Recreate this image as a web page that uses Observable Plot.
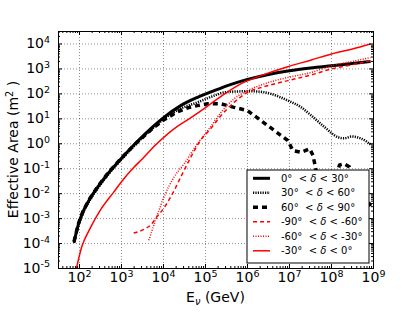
<!DOCTYPE html>
<html><head><meta charset="utf-8">
<script src="https://cdn.jsdelivr.net/npm/d3@7"></script>
<script src="https://cdn.jsdelivr.net/npm/@observablehq/plot@0.6"></script>
<style>body{margin:0;background:#fff;}</style>
</head><body><div id="chart"></div>
<script>
// ---- data (log10 values) ----
const xTickExponents = [2, 3, 4, 5, 6, 7, 8, 9];
const yTickExponents = [-5, -4, -3, -2, -1, 0, 1, 2, 3, 4];

const dec0_30_logE = [1.87, 1.97, 2.09, 2.25, 2.45, 2.70, 3.00, 3.37, 3.77, 4.01, 4.41, 4.81, 5.21, 5.61, 6.0, 6.5, 7.0, 7.5, 8.0, 8.5, 8.93];
const dec0_30_logA = [-3.94, -3.25, -2.70, -2.20, -1.70, -1.15, -0.58, 0.08, 0.72, 1.06, 1.53, 1.86, 2.13, 2.38, 2.58, 2.78, 2.93, 3.04, 3.13, 3.22, 3.30];

const dec30_60_logE = [1.87, 1.97, 2.09, 2.25, 2.45, 2.70, 3.00, 3.37, 3.77, 4.0, 4.4, 4.81, 5.21, 5.45, 5.84, 6.16, 6.56, 6.96, 7.28, 7.52, 7.84, 8.16, 8.3, 8.48, 8.72, 8.93];
const dec30_60_logA = [-3.98, -3.30, -2.75, -2.25, -1.75, -1.20, -0.63, 0.03, 0.66, 0.98, 1.40, 1.66, 1.93, 2.06, 2.10, 2.10, 2.0, 1.73, 1.46, 1.13, 0.66, 0.26, 0.22, 0.29, 0.20, -0.03];

const dec60_90_logE = [1.87, 1.97, 2.09, 2.25, 2.45, 2.70, 3.00, 3.37, 3.77, 4.0, 4.33, 4.6, 4.81, 5.05, 5.37, 5.68, 6.0, 6.32, 6.64, 6.96, 7.08, 7.28, 7.48, 7.56, 7.65, 7.8, 8.0, 8.19, 8.3, 8.43, 8.6, 8.93];
const dec60_90_logA = [-3.92, -3.22, -2.68, -2.18, -1.68, -1.13, -0.57, 0.06, 0.66, 0.95, 1.28, 1.45, 1.53, 1.60, 1.60, 1.46, 1.33, 0.93, 0.53, 0.13, -0.27, -0.34, -0.20, -0.47, -1.2, -2.5, -2.0, -0.85, -0.80, -0.93, -1.5, -2.5];

const decm90_m60_logE = [3.29, 3.57, 3.69, 3.81, 3.97, 4.17, 4.41, 4.65, 4.85, 5.13, 5.37, 5.68, 6.0, 6.40, 6.96, 7.52, 8.0, 8.5, 8.93];
const decm90_m60_logA = [-3.58, -3.40, -3.27, -3.0, -2.67, -2.14, -1.34, -0.54, 0.06, 0.62, 1.13, 1.66, 2.06, 2.29, 2.53, 2.76, 3.0, 3.17, 3.33];

const decm60_m30_logE = [3.65, 3.81, 4.01, 4.25, 4.49, 4.81, 5.13, 5.37, 5.68, 6.0, 6.40, 6.96, 7.52, 8.0, 8.5, 8.93];
const decm60_m30_logA = [-3.87, -3.07, -2.14, -1.34, -0.80, 0.0, 0.70, 1.26, 1.80, 2.13, 2.40, 2.66, 2.86, 3.13, 3.30, 3.46];

const decm30_0_logE = [1.90, 2.05, 2.24, 2.5, 2.81, 3.0, 3.29, 3.5, 3.81, 4.33, 4.61, 5.0, 5.37, 5.84, 6.32, 6.96, 7.52, 8.0, 8.5, 8.93];
const decm30_0_logA = [-5.2, -4.15, -3.43, -2.65, -1.95, -1.52, -0.95, -0.60, -0.05, 0.70, 1.0, 1.45, 1.9, 2.4, 2.73, 3.09, 3.36, 3.6, 3.8, 4.0];

const seriesNames = ["0°|30°", "30°|60°", "60°|90°", "-90°|-60°", "-60°|-30°", "-30°|0°"];
const seriesLogE = [dec0_30_logE, dec30_60_logE, dec60_90_logE, decm90_m60_logE, decm60_m30_logE, decm30_0_logE];
const seriesLogA = [dec0_30_logA, dec30_60_logA, dec60_90_logA, decm90_m60_logA, decm60_m30_logA, decm30_0_logA];

// ---- styles ----
const styles = [
  {stroke: "black", strokeWidth: 3, dash: null},
  {stroke: "black", strokeWidth: 2.5, dash: "1.2,1.2"},
  {stroke: "black", strokeWidth: 3.5, dash: "5,4"},
  {stroke: "red", strokeWidth: 1.5, dash: "4,3"},
  {stroke: "red", strokeWidth: 1.5, dash: "1,1.5"},
  {stroke: "red", strokeWidth: 1.5, dash: null}
];

const W = 415, H = 312, mL = 58, mR = 42, mT = 31, mB = 44;
const innerW = W - mL - mR, innerH = H - mT - mB;

const xTicks = xTickExponents.map(e => 10 ** e);
const yTicks = yTickExponents.map(e => 10 ** e);
const xDomain = [10 ** 1.5, 1e9], yDomain = [1e-5, 10 ** 4.5];
const minorIn = (dom) => {
  const out = [];
  for (let e = Math.floor(Math.log10(dom[0])); e <= Math.ceil(Math.log10(dom[1])); e++)
    for (let m = 2; m <= 9; m++) { const v = m * 10 ** e; if (v >= dom[0] && v <= dom[1]) out.push(v); }
  return out;
};
const xMinor = minorIn(xDomain), yMinor = minorIn(yDomain);

const lineMarks = seriesNames.map((name, i) => {
  const rows = seriesLogE[i].map((le, j) => ({E: 10 ** le, A: 10 ** seriesLogA[i][j]}));
  const s = styles[i];
  return Plot.line(rows, {x: "E", y: "A", stroke: s.stroke, strokeWidth: s.strokeWidth,
    strokeDasharray: s.dash, curve: i === 2 ? "linear" : "monotone-x", clip: true, strokeLinecap: "butt"});
});

const fmt = d => "10^" + Math.round(Math.log10(d));

const svg = Plot.plot({
  width: W, height: H, marginLeft: mL, marginRight: mR, marginTop: mT, marginBottom: mB,
  style: {fontFamily: "DejaVu Sans", fontSize: "14px", background: "white", color: "black"},
  x: {type: "log", domain: xDomain},
  y: {type: "log", domain: yDomain},
  marks: [
    Plot.gridX(xTicks, {stroke: "#000", strokeOpacity: 0.55, strokeWidth: 0.8, strokeDasharray: "1,2"}),
    Plot.gridY(yTicks, {stroke: "#000", strokeOpacity: 0.55, strokeWidth: 0.8, strokeDasharray: "1,2"}),
    ...lineMarks,
    Plot.tickX(xTicks, {x: d => d, insetTop: innerH - 4, stroke: "black"}),
    Plot.tickX(xTicks, {x: d => d, insetBottom: innerH - 4, stroke: "black"}),
    Plot.tickX(xMinor, {x: d => d, insetTop: innerH - 2, stroke: "black"}),
    Plot.tickX(xMinor, {x: d => d, insetBottom: innerH - 2, stroke: "black"}),
    Plot.tickY(yTicks, {y: d => d, insetRight: innerW - 4, stroke: "black"}),
    Plot.tickY(yTicks, {y: d => d, insetLeft: innerW - 4, stroke: "black"}),
    Plot.tickY(yMinor, {y: d => d, insetRight: innerW - 2, stroke: "black"}),
    Plot.tickY(yMinor, {y: d => d, insetLeft: innerW - 2, stroke: "black"}),
    Plot.axisX({ticks: xTicks, tickSize: 0, tickPadding: 4, tickFormat: fmt, label: null, fontSize: 14}),
    Plot.axisY({ticks: yTicks, tickSize: 0, tickPadding: 8.5, tickFormat: fmt, label: null, fontSize: 14}),
    Plot.frame({stroke: "black", strokeWidth: 1})
  ]
});

// superscripts in tick labels
d3.select(svg).selectAll('g[aria-label="x-axis tick label"] text, g[aria-label="y-axis tick label"] text').each(function () {
  const [base, exp] = this.textContent.split("^");
  const t = d3.select(this);
  t.text(null);
  t.append("tspan").text(base);
  t.append("tspan").attr("dy", "-5.5").attr("font-size", "9.5px").text(exp);
});

const root = d3.select(svg);
// axis labels
const xl = root.append("text").attr("x", mL + innerW / 2).attr("y", 302).attr("text-anchor", "middle")
  .attr("font-family", "DejaVu Sans").attr("font-size", 14).attr("fill", "black");
xl.append("tspan").text("E");
xl.append("tspan").attr("dy", 3).attr("font-size", 9.8).attr("font-style", "italic").text("ν");
xl.append("tspan").attr("dy", -3).text(" (GeV)");

const yl = root.append("text").attr("transform", `translate(18,${mT + innerH / 2}) rotate(-90)`).attr("text-anchor", "middle")
  .attr("font-family", "DejaVu Sans").attr("font-size", 14).attr("fill", "black");
yl.append("tspan").text("Effective Area (m");
yl.append("tspan").attr("dy", -5.5).attr("font-size", 9.8).text("2");
yl.append("tspan").attr("dy", 5.5).text(" )");

// legend
const lg = root.append("g");
lg.append("rect").attr("x", 247).attr("y", 170).attr("width", 122).attr("height", 93)
  .attr("fill", "white").attr("stroke", "black").attr("stroke-width", 1);
seriesNames.forEach((name, i) => {
  const y = 178.3 + i * 14.5;
  const s = styles[i];
  lg.append("line").attr("x1", 253).attr("x2", 270).attr("y1", y).attr("y2", y)
    .attr("stroke", s.stroke).attr("stroke-width", s.strokeWidth)
    .attr("stroke-dasharray", s.dash);
  const [lo, hi] = name.split("|");
  const t = lg.append("text").attr("x", 281).attr("y", y + 3.6).attr("font-family", "DejaVu Sans")
    .attr("text-anchor", "start")
    .attr("font-size", 10).attr("fill", "black").attr("xml:space", "preserve").style("white-space", "pre");
  t.append("tspan").text(lo + "  < ");
  t.append("tspan").attr("font-style", "italic").text("δ");
  t.append("tspan").text(" < " + hi);
});

document.getElementById("chart").appendChild(svg);
</script>
</body></html>
